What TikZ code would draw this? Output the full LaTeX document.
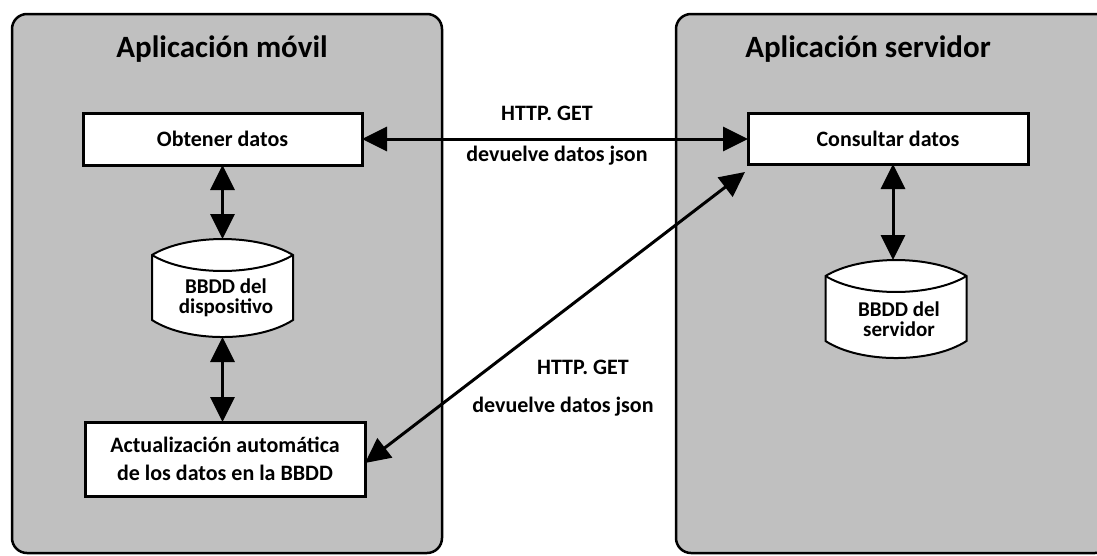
\documentclass[tikz,border=0pt]{standalone}
\usepackage{fontspec}
\setmainfont{Carlito}
\usetikzlibrary{arrows.meta,calc}

\definecolor{panelgray}{RGB}{192,192,192}

\tikzset{
  panel/.style={draw=black, line width=2.5pt, fill=panelgray, rounded corners=15pt,
                inner sep=0pt, outer sep=0pt},
  procbox/.style={draw=black, line width=3pt, fill=white, inner sep=0pt, outer sep=0pt,
                  align=center, font=\fontsize{22}{28}\selectfont\bfseries},
  dbnode/.style={inner sep=0pt, outer sep=0pt, minimum width=141pt, minimum height=98pt},
  dbline/.style={draw=black, line width=2pt},
  dbtext/.style={align=center, inner sep=0pt, font=\fontsize{21}{20}\selectfont\bfseries},
  title/.style={inner sep=0pt, font=\fontsize{31}{36}\selectfont\bfseries},
  msg/.style={inner sep=0pt, font=\fontsize{22}{24}\selectfont\bfseries},
  flow/.style={line width=3pt,
               {Triangle[length=25pt,width=24pt]}-{Triangle[length=25pt,width=24pt]}},
}

% database symbol drawn around a named node
\newcommand\dbdraw[1]{%
  \draw[dbline, fill=white]
    ($(#1.north west)+(0,16)$)
      .. controls ($(#1.north west)+(35,-5.3)$) and ($(#1.north east)+(-35,-5.3)$) ..
    ($(#1.north east)+(0,16)$) -- ($(#1.south east)+(0,-17)$)
      .. controls ($(#1.south east)+(-35,5.7)$) and ($(#1.south west)+(35,5.7)$) ..
    ($(#1.south west)+(0,-17)$) -- cycle;
  \draw[dbline]
    ($(#1.north west)+(0,16)$)
      .. controls ($(#1.north west)+(35,37.3)$) and ($(#1.north east)+(-35,37.3)$) ..
    ($(#1.north east)+(0,16)$);
}

\begin{document}
\begin{tikzpicture}[x=1pt, y=-1pt]
  \useasboundingbox (0,0) rectangle (1097,555);
  \clip (0,0) rectangle (1097,555);

  % the two applications
  \node[panel, minimum width=430pt, minimum height=539pt] (movil) at (227,283.5) {};
  \node[panel, minimum width=434pt, minimum height=539pt] (servidor) at (893,283.5) {};
  \node[title] (tmovil) at (222,49) {Aplicación móvil};
  \node[title] (tservidor) at (868,49) {Aplicación servidor};

  % mobile side
  \node[procbox, minimum width=279pt, minimum height=52pt] (obtener) at (222.5,139) {Obtener datos};
  \node[dbnode] (bddisp) at (222.5,288) {};
  \dbdraw{bddisp}
  \node[dbtext] (tdisp) at (226,298) {BBDD del\\dispositivo};
  \node[procbox, minimum width=280pt, minimum height=74pt] (actual) at (225,459)
       {Actualización automática\\de los datos en la BBDD};

  % server side
  \node[procbox, minimum width=280pt, minimum height=51pt] (consultar) at (888,138.5) {Consultar datos};
  \node[dbnode] (bdserv) at (896,309) {};
  \dbdraw{bdserv}
  \node[dbtext] (tserv) at (899,319) {BBDD del\\servidor};

  % connectors
  \draw[flow] (obtener.east) -- (obtener.east -| consultar.west);
  \draw[flow] (obtener.south) -- (bddisp.north);
  \draw[flow] (bddisp.south) -- (bddisp.south |- actual.north);
  \draw[flow] ([xshift=-3pt]bdserv.north |- consultar.south) -- ([xshift=-3pt]bdserv.north);
  \draw[flow] ([yshift=-4pt]actual.east) -- ($(consultar.south west)+(-3,8)$);

  % message labels
  \node[msg] (get1) at (547,113) {HTTP. GET};
  \node[msg] (json1) at (557,156) {devuelve datos json};
  \node[msg] (get2) at (583,367) {HTTP. GET};
  \node[msg] (json2) at (563,407) {devuelve datos json};
\end{tikzpicture}
\end{document}
